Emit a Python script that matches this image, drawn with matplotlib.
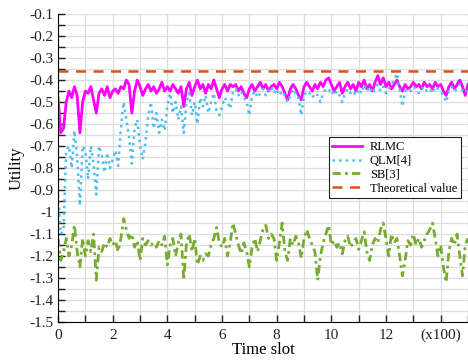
import numpy as np
import matplotlib.pyplot as plt
from matplotlib.ticker import MultipleLocator

plt.rcParams['font.family'] = ['Liberation Serif', 'DejaVu Serif']

# time slot in units of 100
t = np.round(np.arange(0, 15.01, 0.1), 1)

rlmc = [-0.48, -0.64, -0.62, -0.50, -0.45, -0.48, -0.43, -0.47, -0.64, -0.50,
        -0.45, -0.46, -0.43, -0.49, -0.55, -0.46, -0.44, -0.47, -0.43, -0.48,
        -0.45, -0.44, -0.46, -0.43, -0.44, -0.40, -0.42, -0.55, -0.45, -0.40,
        -0.43, -0.47, -0.44, -0.42, -0.45, -0.43, -0.46, -0.44, -0.41, -0.45,
        -0.43, -0.45, -0.42, -0.44, -0.46, -0.43, -0.52, -0.44, -0.41, -0.47,
        -0.43, -0.40, -0.44, -0.42, -0.46, -0.42, -0.44, -0.40, -0.44, -0.48,
        -0.44, -0.42, -0.45, -0.42, -0.43, -0.42, -0.45, -0.43, -0.46, -0.48,
        -0.44, -0.42, -0.45, -0.43, -0.41, -0.44, -0.42, -0.45, -0.43, -0.42,
        -0.44, -0.41, -0.43, -0.46, -0.49, -0.44, -0.42, -0.44, -0.47, -0.49,
        -0.43, -0.41, -0.43, -0.45, -0.42, -0.44, -0.41, -0.43, -0.40, -0.39,
        -0.42, -0.45, -0.43, -0.41, -0.46, -0.43, -0.41, -0.44, -0.42, -0.45,
        -0.41, -0.43, -0.40, -0.44, -0.42, -0.45, -0.41, -0.38, -0.42, -0.39,
        -0.43, -0.41, -0.44, -0.42, -0.40, -0.43, -0.45, -0.42, -0.44, -0.43,
        -0.41, -0.43, -0.42, -0.44, -0.41, -0.43, -0.42, -0.44, -0.41, -0.43,
        -0.42, -0.45, -0.47, -0.43, -0.41, -0.44, -0.42, -0.40, -0.43, -0.47,
        -0.42]

qlm = [-0.92, -1.10, -1.08, -0.72, -0.70, -0.80, -0.63, -0.75, -0.97, -0.70,
       -0.72, -0.85, -0.70, -0.78, -0.92, -0.70, -0.74, -0.82, -0.73, -0.80,
       -0.76, -0.72, -0.79, -0.62, -0.50, -0.58, -0.66, -0.78, -0.62, -0.58,
       -0.70, -0.76, -0.68, -0.56, -0.50, -0.62, -0.55, -0.64, -0.58, -0.63,
       -0.52, -0.46, -0.55, -0.50, -0.58, -0.52, -0.64, -0.50, -0.46, -0.56,
       -0.50, -0.60, -0.48, -0.52, -0.47, -0.55, -0.50, -0.46, -0.54, -0.56,
       -0.52, -0.48, -0.50, -0.53, -0.45, -0.44, -0.47, -0.45, -0.48, -0.50,
       -0.56, -0.47, -0.45, -0.48, -0.46, -0.44, -0.47, -0.45, -0.43, -0.46,
       -0.44, -0.47, -0.45, -0.47, -0.50, -0.47, -0.44, -0.46, -0.48, -0.56,
       -0.47, -0.45, -0.46, -0.48, -0.46, -0.47, -0.50, -0.46, -0.44, -0.45,
       -0.44, -0.47, -0.45, -0.47, -0.50, -0.46, -0.44, -0.46, -0.45, -0.47,
       -0.44, -0.46, -0.42, -0.45, -0.43, -0.46, -0.44, -0.42, -0.45, -0.43,
       -0.46, -0.44, -0.42, -0.40, -0.37, -0.44, -0.52, -0.45, -0.44, -0.45,
       -0.43, -0.44, -0.46, -0.44, -0.43, -0.45, -0.44, -0.46, -0.43, -0.44,
       -0.45, -0.47, -0.50, -0.45, -0.43, -0.45, -0.44, -0.42, -0.45, -0.46,
       -0.44]

sb = [-1.12, -1.22, -1.18, -1.12, -1.20, -1.15, -1.06, -1.18, -1.25, -1.12,
      -1.20, -1.13, -1.18, -1.10, -1.31, -1.16, -1.18, -1.14, -1.16, -1.12,
      -1.15, -1.13, -1.18, -1.12, -1.03, -1.08, -1.12, -1.10, -1.16, -1.13,
      -1.22, -1.12, -1.15, -1.13, -1.15, -1.14, -1.16, -1.13, -1.15, -1.11,
      -1.24, -1.15, -1.12, -1.20, -1.14, -1.10, -1.31, -1.14, -1.10, -1.18,
      -1.12, -1.24, -1.20, -1.22, -1.19, -1.20, -1.15, -1.12, -1.07, -1.14,
      -1.16, -1.12, -1.20, -1.14, -1.05, -1.10, -1.15, -1.19, -1.14, -1.18,
      -1.25, -1.16, -1.12, -1.18, -1.13, -1.08, -1.06, -1.12, -1.10, -1.12,
      -1.22, -1.14, -1.05, -1.18, -1.22, -1.12, -1.15, -1.11, -1.14, -1.21,
      -1.12, -1.08, -1.12, -1.15, -1.18, -1.31, -1.20, -1.14, -1.10, -1.06,
      -1.15, -1.13, -1.16, -1.14, -1.19, -1.13, -1.11, -1.16, -1.14, -1.12,
      -1.17, -1.13, -1.09, -1.18, -1.22, -1.15, -1.12, -1.14, -1.08, -1.05,
      -1.12, -1.20, -1.10, -1.14, -1.12, -1.20, -1.29, -1.22, -1.13, -1.15,
      -1.10, -1.15, -1.12, -1.16, -1.13, -1.10, -1.08, -1.05, -1.12, -1.20,
      -1.15, -1.25, -1.32, -1.18, -1.12, -1.15, -1.10, -1.20, -1.29, -1.15,
      -1.12]

theory = -0.36

xticks = [0, 2, 4, 6, 8, 10, 12, 14]
xticklabels = ['0', '2', '4', '6', '8', '10', '12', '(x100)']
yticks = np.round(np.arange(-1.5, -0.05, 0.1), 1)

fig = plt.figure(figsize=(4.68, 3.61), dpi=100)
ax = fig.add_axes([0.124, 0.108, 0.876, 0.853])

ax.plot(t, rlmc, color='#FF00FF', lw=2, label='RLMC')
ax.plot(t, qlm, color='#4DBEEE', lw=1.8, ls=':', label='QLM[4]')
ax.plot(t, sb, color='#77AC30', lw=2, ls=(0, (3, 1.5, 1, 1.5)), label='SB[3]')
ax.axhline(theory, color='#D95319', lw=1.8, ls=(0, (4, 3)), label='Theoretical value')

ax.set_xlim(0, 15)
ax.set_ylim(-1.5, -0.1)
ax.set_xticks(xticks)
ax.set_xticklabels(xticklabels)
ax.xaxis.set_minor_locator(MultipleLocator(1))
ax.set_yticks(yticks)
ax.set_yticklabels(['%g' % v for v in yticks])
ax.yaxis.set_minor_locator(MultipleLocator(0.05))

ax.grid(True, which='both', color='#dddddd', lw=0.9)
ax.set_axisbelow(True)
ax.tick_params(which='both', direction='in', length=5, width=1, labelsize=11, colors='#222222')
ax.tick_params(axis='x', pad=5)
for s in ['top', 'right']:
    ax.spines[s].set_visible(False)

ax.set_xlabel('Time slot', fontsize=12, labelpad=0)
ax.set_ylabel('Utility', fontsize=12, labelpad=3)

leg = ax.legend(loc='upper left', bbox_to_anchor=(0.66, 0.60), fontsize=9,
                fancybox=False, edgecolor='#222222', framealpha=1,
                handlelength=2.4, handletextpad=0.6, borderpad=0.3,
                labelspacing=0.15, borderaxespad=0)
leg.get_frame().set_linewidth(0.8)

fig.savefig('out.png', dpi=100)
